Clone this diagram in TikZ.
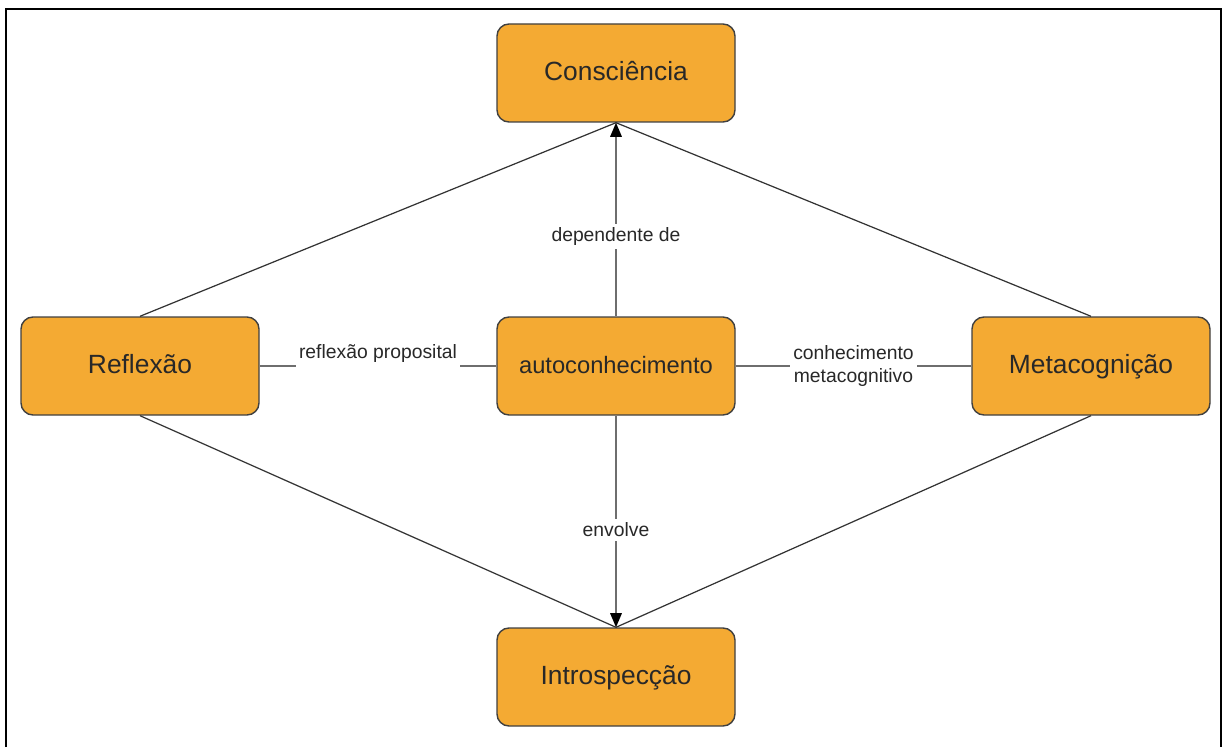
\documentclass[tikz,border=0pt]{standalone}
\usepackage{fontspec}
\setmainfont{Liberation Sans}
\usepackage{tikz}
\usetikzlibrary{arrows.meta}
\usetikzlibrary{positioning}
\definecolor{boxorange}{RGB}{244,170,51}
\definecolor{edgegray}{RGB}{110,110,110}
\definecolor{textgray}{RGB}{40,40,40}
\tikzstyle{concept} = [rectangle, rounded corners=0.24cm, minimum width=4.76cm, minimum height=1.96cm, text centered, text height=11pt, text depth=3pt, draw=black!75, line width=0.8pt, fill=boxorange, text=textgray, font=\fontsize{15}{18}\selectfont]
\tikzstyle{link} = [draw=black!80, line width=0.7pt]
\tikzstyle{relation} = [draw=edgegray, line width=1pt]
\tikzstyle{arrow} = [relation, -{Triangle[length=8pt,width=6.5pt,color=black]}]
\tikzstyle{lbl} = [fill=white, text=textgray, font=\fontsize{11}{13}\selectfont, align=center, inner sep=2pt]

\begin{document}
\begin{tikzpicture}
\useasboundingbox (0,0) rectangle (24.5,14.94);
\draw [line width=1.2pt] (0.12,0) -- (0.12,14.76) -- (24.42,14.76) -- (24.42,0);

\node[concept] (consc) at (12.32,13.48) {Consciência};
\node[concept] (refl)  at (2.80,7.62)   {Reflexão};
\node[concept, font=\fontsize{13.5}{16}\selectfont] (auto) at (12.32,7.62) {autoconhecimento};
\node[concept] (meta)  at (21.82,7.62)  {Metacognição};
\node[concept] (intro) at (12.32,1.40)  {Introspecção};

\draw [link] (refl.north) -- (consc.south);
\draw [link] (meta.north) -- (consc.south);
\draw [link] (refl.south) -- (intro.north);
\draw [link] (meta.south) -- (intro.north);

\draw [arrow] (auto.north) -- node[lbl, pos=0.41]{dependente de} (consc.south);
\draw [arrow] (auto.south) -- node[lbl, pos=0.54]{envolve} (intro.north);
\draw [relation] (refl.east) -- node[lbl, yshift=0.25cm, inner ysep=5pt]{reflexão proposital} (auto.west);
\draw [relation] (auto.east) -- node[lbl]{conhecimento\\metacognitivo} (meta.west);

\end{tikzpicture}
\end{document}
